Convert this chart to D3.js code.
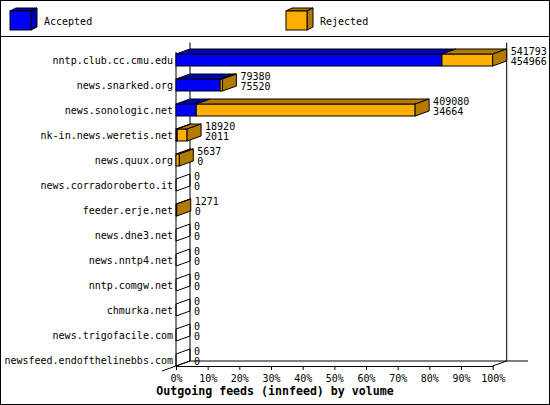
<!DOCTYPE html>
<html>
<head>
<meta charset="utf-8">
<script src="https://cdn.jsdelivr.net/npm/d3@7"></script>
<style>
body { margin: 0; background: #fff; }
text { font-family: "DejaVu Sans Mono", monospace; font-size: 10px; fill: #000; }
</style>
</head>
<body>
<svg id="chart" width="550" height="405"></svg>
<script>
// feeds, top to bottom
var hosts = [
    'nntp.club.cc.cmu.edu',
    'news.snarked.org',
    'news.sonologic.net',
    'nk-in.news.weretis.net',
    'news.quux.org',
    'news.corradoroberto.it',
    'feeder.erje.net',
    'news.dne3.net',
    'news.nntp4.net',
    'nntp.comgw.net',
    'chmurka.net',
    'news.trigofacile.com',
    'newsfeed.endofthelinebbs.com'
]
var accepted = [454966, 75520, 34664, 2011, 0, 0, 0, 0, 0, 0, 0, 0, 0]
var rejected = [86827, 3860, 374416, 16909, 5637, 0, 1271, 0, 0, 0, 0, 0, 0]

var seriesNames = ['Accepted', 'Rejected']
var seriesColors = ['#0000FF', '#FFAF00']
var pctTicks = [0, 10, 20, 30, 40, 50, 60, 70, 80, 90, 100]
var title = 'Outgoing feeds (innfeed) by volume'

const svg = d3.select('#chart')
const dx = 14, dy = -5      // 3d depth offset
const barH = 12

var totals = hosts.map(function(h, i){ return accepted[i] + rejected[i] })

var x = d3.scaleLinear().domain([0, d3.max(totals)]).range([176, 492.7])
var pct = d3.scaleLinear().domain([0, 100]).range([176, 492.7])
var y = d3.scalePoint().domain(hosts).range([60, 360])

const dark = c => d3.rgb(c).darker(1).formatHex()

// frame + legend separator
svg.append('rect')
    .attr('x', 0.5).attr('y', 0.5).attr('width', 549).attr('height', 404)
    .attr('fill', '#fff').attr('stroke', '#000')
svg.append('line')
    .attr('x1', 0).attr('x2', 550).attr('y1', 36.5).attr('y2', 36.5)
    .attr('stroke', '#000')

// legend cubes
var leg = svg.selectAll('.legend')
    .data(seriesNames)
    .enter().append('g')
    .classed('legend', true)
    .attr('transform', function(d, i){ return 'translate(' + (10 + i * 276) + ',11)' })

leg.append('polygon')
    .attr('points', '0,0 6,-3 27,-3 21,0')
    .attr('fill', function(d, i){ return dark(seriesColors[i]) })
    .attr('stroke', '#000')
leg.append('polygon')
    .attr('points', '21,0 27,-3 27,16 21,19')
    .attr('fill', function(d, i){ return dark(seriesColors[i]) })
    .attr('stroke', '#000')
leg.append('rect')
    .attr('width', 21).attr('height', 19)
    .attr('fill', function(d, i){ return seriesColors[i] })
    .attr('stroke', '#000')
leg.append('text')
    .attr('x', 34).attr('y', 13.5)
    .text(d => d)

// walls and floor
var x0 = x(0), xEnd = x.range()[1]
var floorY = y(hosts[hosts.length - 1]) + barH / 2
var topY = y(hosts[0]) - 12.5 + dy
var walls = [
    [x0 + dx, topY, x0 + dx, floorY + dy],
    [xEnd + dx, topY, xEnd + dx, floorY + dy],
    [x0 + dx, floorY + dy, 528, floorY + dy],
    [xEnd, floorY, xEnd + dx, floorY + dy],
    [x0 + dx, floorY + dy, x0 - dx, floorY - dy],
    [x0, y(hosts[0]) - barH / 2 - 2, x0, floorY]
]
svg.selectAll('.wall')
    .data(walls)
    .enter().append('line')
    .classed('wall', true)
    .attr('x1', d => d[0]).attr('y1', d => d[1])
    .attr('x2', d => d[2]).attr('y2', d => d[3])
    .attr('stroke', '#000')

// x axis in percent
var axis = svg.append('g')
    .attr('transform', 'translate(0,' + floorY + ')')
    .call(d3.axisBottom(pct).tickValues(pctTicks)
        .tickFormat(d => d + '%').tickSize(4).tickSizeOuter(0).tickPadding(5))
axis.attr('font-family', null).attr('font-size', null)
axis.select('.domain').attr('stroke', '#000')
axis.selectAll('line').attr('stroke', '#000')

// host labels
svg.selectAll('.host')
    .data(hosts)
    .enter().append('text')
    .classed('host', true)
    .attr('x', 173)
    .attr('y', d => y(d) + 3.5)
    .attr('text-anchor', 'end')
    .text(d => d)

// bars
hosts.forEach(function(h, i){
    var top = y(h) - barH / 2
    var bot = top + barH
    var g = svg.append('g').classed('bar', true)
    var segs = [
        {a: 0, b: accepted[i], c: seriesColors[0]},
        {a: accepted[i], b: totals[i], c: seriesColors[1]}
    ].filter(s => s.b > s.a)

    segs.forEach(function(s){
        var xa = x(s.a), xb = x(s.b)
        g.append('rect')
            .attr('x', xa).attr('y', top)
            .attr('width', xb - xa).attr('height', barH)
            .attr('fill', s.c).attr('stroke', '#000')
        g.append('polygon')
            .attr('points', [[xa, top], [xa + dx, top + dy], [xb + dx, top + dy], [xb, top]].join(' '))
            .attr('fill', dark(s.c)).attr('stroke', '#000')
    })
    // end face, empty for zero rows
    var xe = x(totals[i])
    g.append('polygon')
        .attr('points', [[xe, top], [xe + dx, top + dy], [xe + dx, bot + dy], [xe, bot]].join(' '))
        .attr('fill', segs.length ? dark(segs[segs.length - 1].c) : 'none')
        .attr('stroke', '#000')

    // values: total above, accepted below
    g.append('text')
        .attr('x', xe + dx + 4).attr('y', y(h) - 5.5)
        .text(totals[i])
    g.append('text')
        .attr('x', xe + dx + 4).attr('y', y(h) + 5)
        .text(accepted[i])
})

svg.append('text')
    .attr('x', 275).attr('y', 395)
    .attr('text-anchor', 'middle')
    .style('font-size', '11.6px')
    .style('font-weight', 'bold')
    .text(title)
</script>
</body>
</html>
